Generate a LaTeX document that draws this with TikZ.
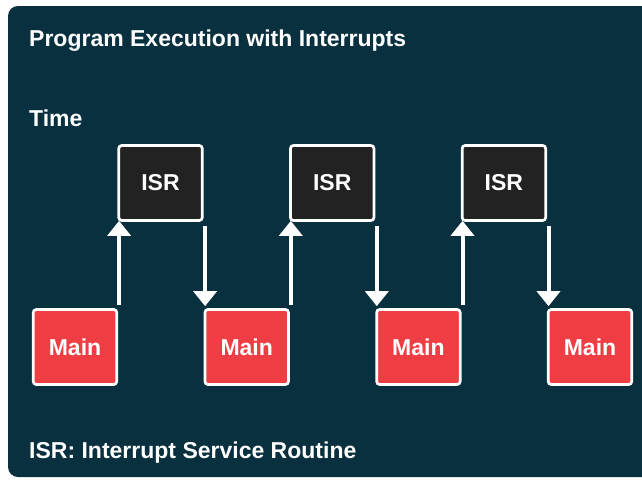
\documentclass[tikz,border=0pt]{standalone}
\usepackage{fontspec}
\setmainfont{Liberation Sans}
\usetikzlibrary{arrows.meta}

\definecolor{panel}{HTML}{08303F}
\definecolor{mainred}{HTML}{EE3E44}
\definecolor{isrgray}{HTML}{222222}

\begin{document}
\begin{tikzpicture}[x=1pt, y=-1pt,
  txt/.style={text=white, font=\fontsize{23}{27}\selectfont\bfseries},
  block/.style={txt, draw=white, line width=2.7pt, rounded corners=3pt,
    minimum width=83.5pt, minimum height=75pt, inner sep=0pt},
  mainbox/.style={block, fill=mainred},
  isrbox/.style={block, fill=isrgray},
  caption/.style={txt, anchor=base west, inner sep=0pt},
  flow/.style={draw=white, line width=4pt,
    -{Triangle[width=23pt, length=15pt]}}
]
  % canvas and rounded dark panel
  \useasboundingbox (0,0) rectangle (642,479);
  \fill[white] (0,0) rectangle (642,479);
  \begin{scope}
    \clip (0,0) rectangle (642,479);
    \fill[panel, rounded corners=10pt] (8,6) rectangle (670,477);
  \end{scope}

  % headings
  \node[caption] (title) at (29,46) {Program Execution with Interrupts};
  \node[caption] (time) at (29,126) {Time};
  \node[caption] (legend) at (29,458) {ISR: Interrupt Service Routine};

  % main program slices
  \node[mainbox] (m1) at (75,347)    {Main};
  \node[mainbox] (m2) at (246.7,347) {Main};
  \node[mainbox] (m3) at (418.4,347) {Main};
  \node[mainbox] (m4) at (590,347)   {Main};

  % interrupt service routines
  \node[isrbox] (i1) at (160.5,183) {ISR};
  \node[isrbox] (i2) at (332.2,183) {ISR};
  \node[isrbox] (i3) at (503.9,183) {ISR};

  % interrupt entry (up) and return (down)
  \foreach \m/\i/\n in {m1/i1/m2, m2/i2/m3, m3/i3/m4} {
    \draw[flow, shorten <=3pt, shorten >=-1pt]
      ([xshift=1pt]\m.north east) -- ([xshift=1pt]\m.north east |- \i.south);
    \draw[flow, shorten <=4pt, shorten >=2pt]
      ([xshift=1.5pt]\i.south east) -- ([xshift=1.5pt]\i.south east |- \n.north);
  }
\end{tikzpicture}
\end{document}
